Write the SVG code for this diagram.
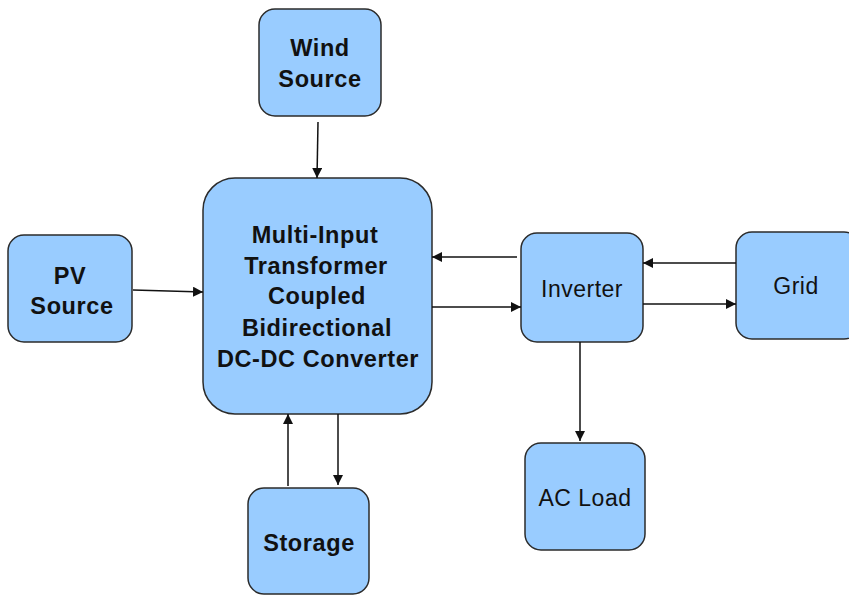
<svg xmlns="http://www.w3.org/2000/svg" width="849" height="597" viewBox="0 0 849 597">
<defs>
<style>
.box{fill:#99ccff;stroke:#2b2b2b;stroke-width:1.5}
.b{font-family:"Liberation Sans",Arial,sans-serif;font-weight:bold;font-size:23.5px;letter-spacing:0.6px;fill:#111;text-anchor:middle}
.n{font-family:"Liberation Sans",Arial,sans-serif;font-size:23px;letter-spacing:0.5px;fill:#111;text-anchor:middle}
.c{stroke:#111;stroke-width:1.5;fill:none;marker-end:url(#ah)}
</style>
<marker id="ah" viewBox="0 0 10 10" refX="10" refY="5" markerWidth="10" markerHeight="10" markerUnits="userSpaceOnUse" orient="auto">
<path d="M0,0 L10,5 L0,10 z" fill="#111"/>
</marker>
</defs>
<rect width="849" height="597" fill="#fff"/>
<g id="wind"><rect class="box" x="259" y="9" width="122" height="107" rx="16"/><text class="b" x="320" y="56">Wind</text><text class="b" x="320" y="87">Source</text></g>
<g id="converter"><rect class="box" x="203" y="178" width="229" height="236" rx="32"/>
<text class="b" x="315" y="243">Multi-Input</text>
<text class="b" x="316" y="274">Transformer</text>
<text class="b" x="317" y="304">Coupled</text>
<text class="b" x="317" y="336">Bidirectional</text>
<text class="b" x="318" y="367">DC-DC Converter</text></g>
<g id="pv"><rect class="box" x="8" y="235" width="124" height="107" rx="16"/><text class="b" x="70" y="284">PV</text><text class="b" x="72" y="314">Source</text></g>
<g id="inverter"><rect class="box" x="521" y="233" width="122" height="109" rx="16"/><text class="n" x="582" y="297">Inverter</text></g>
<g id="grid"><rect class="box" x="736" y="232" width="124" height="107" rx="16"/><text class="n" x="796" y="294">Grid</text></g>
<g id="acload"><rect class="box" x="525" y="443" width="120" height="107" rx="16"/><text class="n" x="585" y="506">AC Load</text></g>
<g id="storage"><rect class="box" x="248" y="488" width="121" height="106" rx="16"/><text class="b" x="309" y="551">Storage</text></g>
<g id="connectors">
<line class="c" x1="318" y1="122" x2="317" y2="178"/>
<line class="c" x1="133" y1="290" x2="203" y2="292"/>
<line class="c" x1="517" y1="257" x2="432" y2="257"/>
<line class="c" x1="432" y1="307" x2="521" y2="307"/>
<line class="c" x1="736" y1="263" x2="643" y2="263"/>
<line class="c" x1="643" y1="304" x2="736" y2="304"/>
<line class="c" x1="580" y1="342" x2="580" y2="441"/>
<line class="c" x1="288" y1="486" x2="288" y2="414"/>
<line class="c" x1="338" y1="414" x2="338" y2="485"/>
</g>
</svg>
